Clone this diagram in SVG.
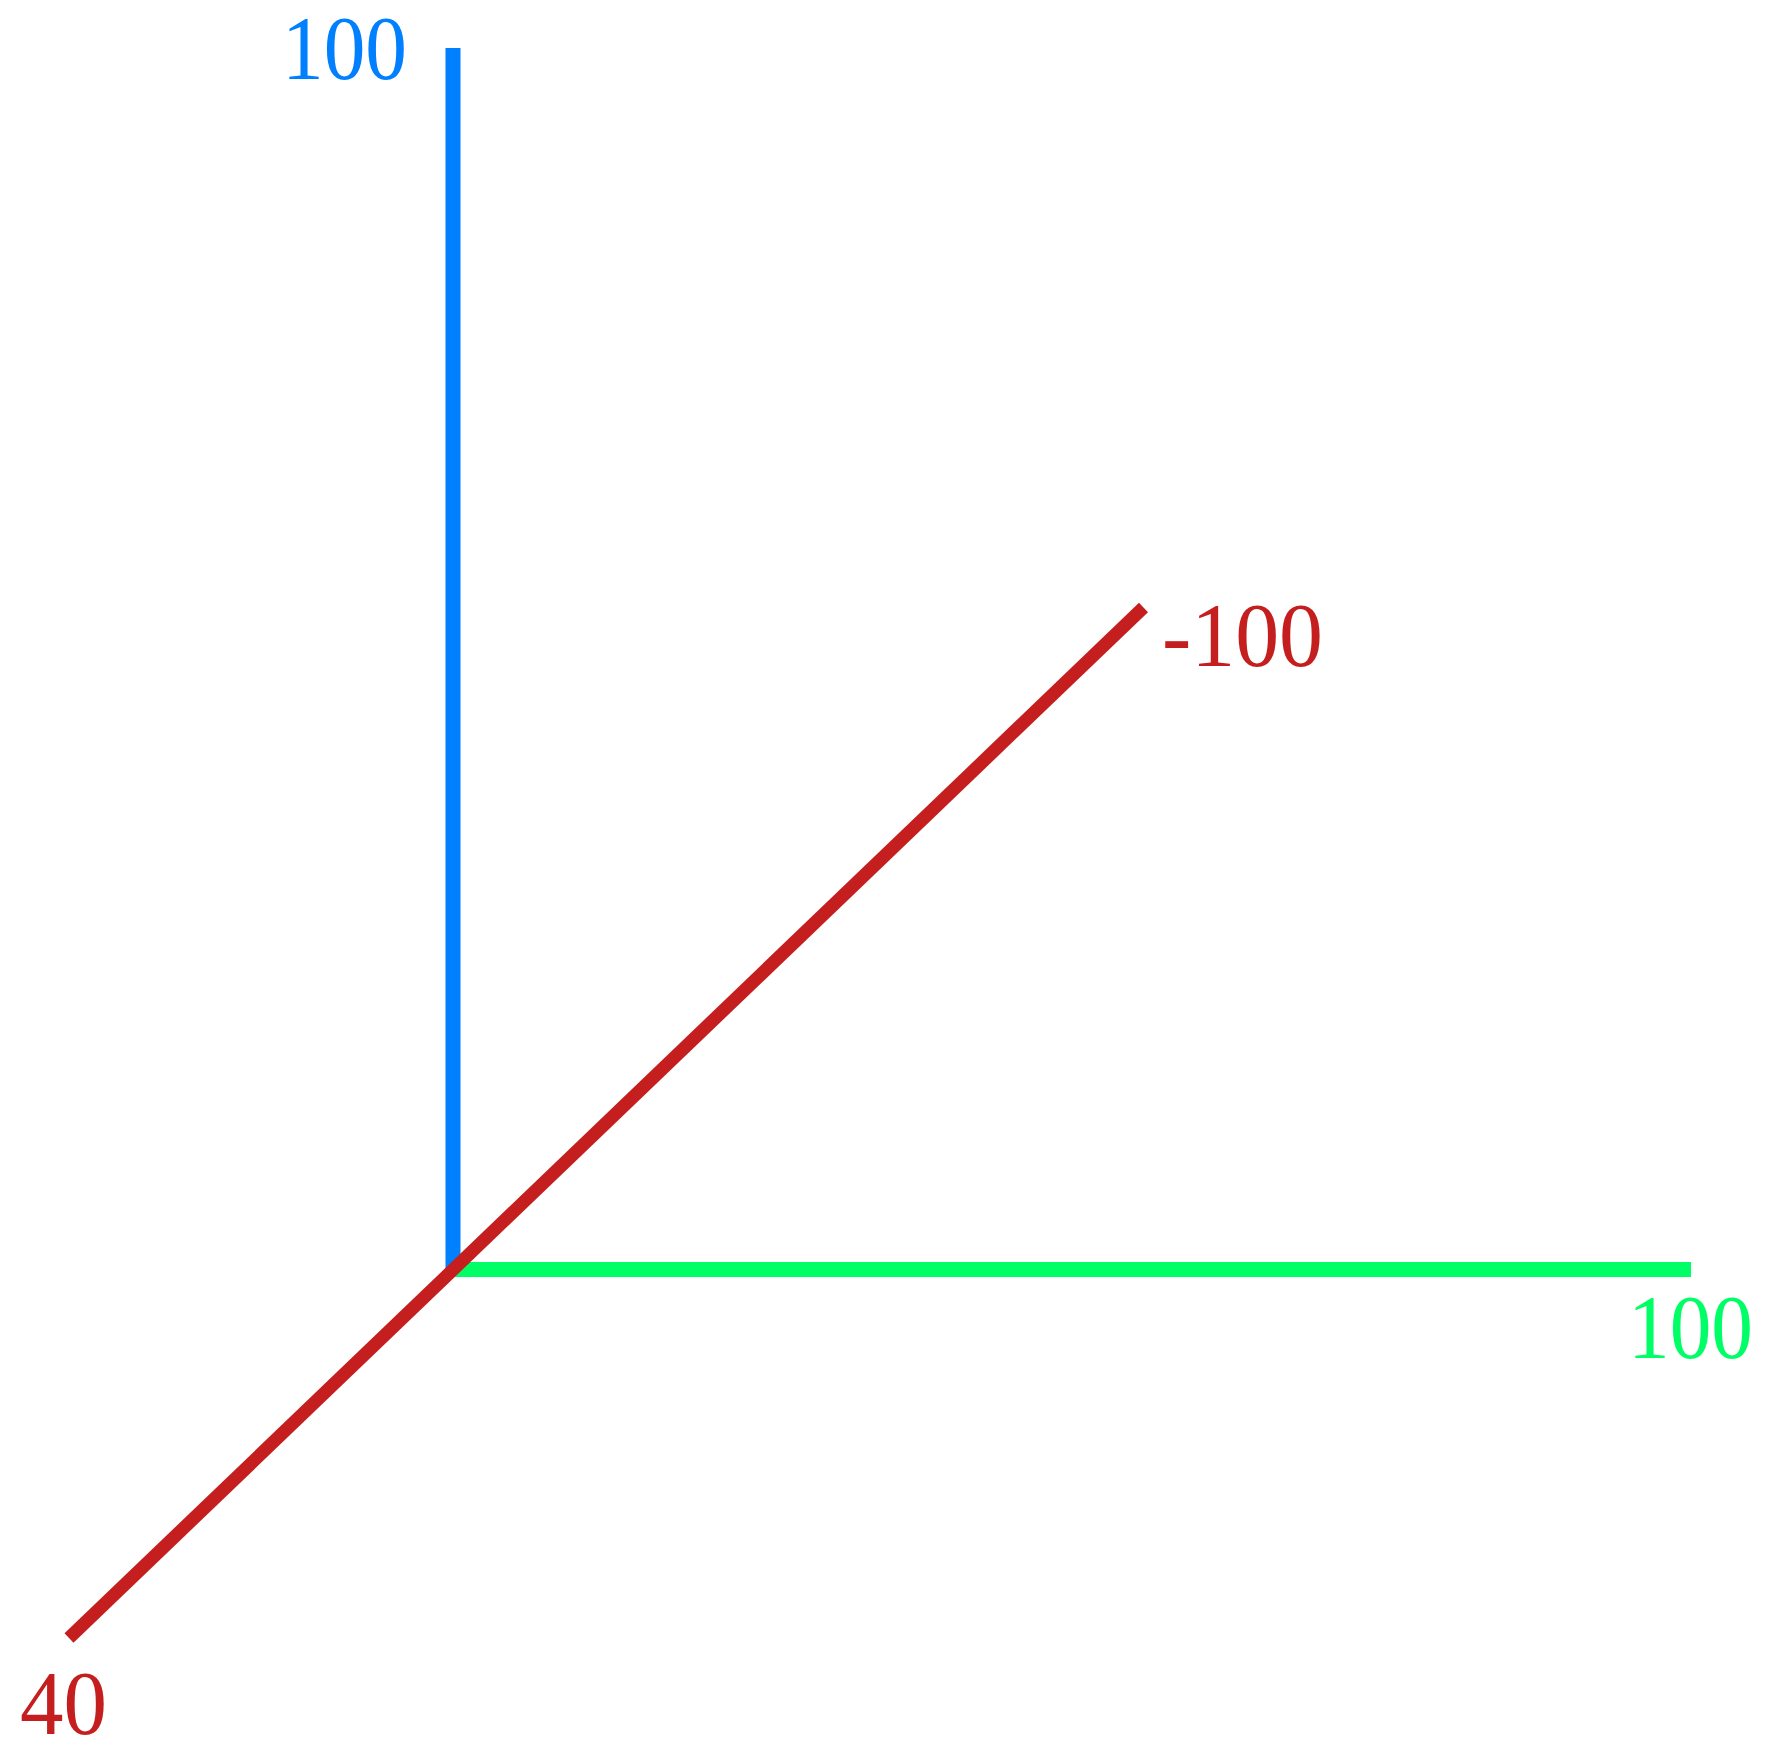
<svg xmlns="http://www.w3.org/2000/svg" width="1766" height="1747" viewBox="0 0 1766 1747">
<style>
.lbl{font-family:"Liberation Serif","Times New Roman",serif;font-size:92px}
.ax{fill:none;stroke-linecap:butt}
</style>
<rect width="1766" height="1747" fill="#ffffff"/>
<g id="connectors">
<line id="axis-y" class="ax" x1="453" y1="48" x2="453" y2="1277" stroke="#0080ff" stroke-width="15"/>
<line id="axis-x" class="ax" x1="453" y1="1269.5" x2="1691" y2="1269.5" stroke="#00ff66" stroke-width="15"/>
<line id="axis-z" class="ax" x1="69" y1="1638" x2="1143.5" y2="607.5" stroke="#c41e1e" stroke-width="13"/>
</g>
<g id="label-y"><text class="lbl" x="282" y="79" fill="#0080ff" textLength="125" lengthAdjust="spacingAndGlyphs">100</text></g>
<g id="label-z-neg"><text class="lbl" x="1162" y="666" fill="#c41e1e" textLength="161" lengthAdjust="spacingAndGlyphs">-100</text></g>
<g id="label-x"><text class="lbl" x="1628" y="1358" fill="#00ff66" textLength="125" lengthAdjust="spacingAndGlyphs">100</text></g>
<g id="label-z-pos"><text class="lbl" x="20" y="1734" fill="#c41e1e" textLength="87" lengthAdjust="spacingAndGlyphs">40</text></g>
</svg>
